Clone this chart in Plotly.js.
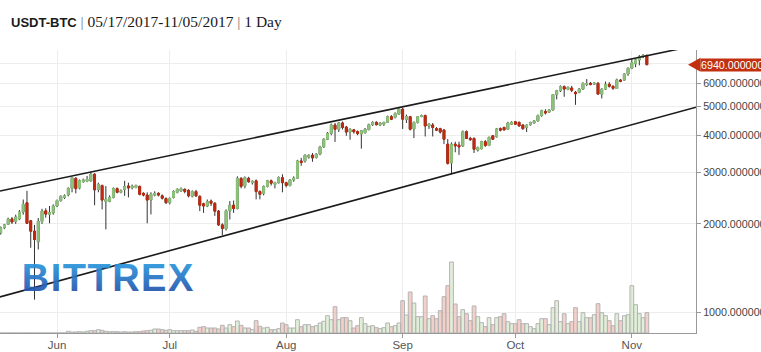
<!DOCTYPE html>
<html><head><meta charset="utf-8">
<script src="https://cdn.plot.ly/plotly-3.0.1.min.js"></script>
<style>html,body{margin:0;padding:0;background:#fff}#chart{width:761px;height:352px}</style>
</head><body><div id="chart"></div>
<script>
// ---- data (USDT-BTC daily, 2017-05-17 .. 2017-11-05) ----
const startDate = "2017-05-17";
const openP = [1866,1940,1995,2080,2040,2080,2195,2360,2050,1890,
1740,2040,2215,2155,2180,2300,2400,2460,2510,2640,
2855,2650,2780,2790,2800,2947,2620,2700,2380,2390,
2460,2635,2560,2620,2690,2650,2660,2680,2540,2505,
2410,2505,2540,2490,2440,2360,2460,2560,2590,2620,
2600,2485,2575,2480,2340,2300,2390,2350,2210,1985,
1925,2215,2315,2255,2855,2690,2855,2760,2800,2575,
2540,2680,2800,2725,2760,2870,2760,2700,2820,2860,
3270,3270,3370,3420,3360,3450,3650,3876,4060,4330,
4190,4400,4260,4100,4170,4110,4040,4080,4180,4340,
4420,4330,4360,4420,4620,4600,4714,4900,4520,4620,
4200,4420,4630,4660,4300,4330,4210,4210,4160,3727,
3220,3727,3700,3680,4110,3900,3900,3560,3600,3800,
3690,3980,3950,4210,4250,4190,4360,4440,4420,4330,
4250,4340,4400,4470,4660,4810,4790,4870,5490,5660,
5840,5720,5780,5590,5590,5735,5950,6000,5960,6000,
5514,5735,5950,5860,5760,6150,6150,6450,6750,6990,
7200,7380,7460];
const highP = [1960,2000,2100,2110,2150,2230,2420,2590,2060,1985,
2095,2250,2260,2300,2330,2420,2500,2520,2660,2890,
2880,2830,2850,2910,3005,2975,2760,2720,2690,2500,
2660,2660,2620,2800,2760,2720,2720,2700,2560,2560,
2560,2580,2560,2520,2460,2460,2600,2640,2660,2640,
2620,2600,2610,2500,2360,2420,2420,2370,2230,2010,
2240,2390,2400,2900,2880,2900,2890,2810,2830,2600,
2700,2820,2830,2780,2900,2947,2780,2840,2900,3300,
3350,3440,3440,3480,3470,3680,3900,4100,4380,4400,
4430,4450,4300,4220,4200,4150,4160,4230,4380,4460,
4460,4420,4440,4660,4680,4780,4920,4950,4700,4650,
4450,4640,4700,4700,4380,4400,4260,4240,4200,3880,
3780,3800,3800,4150,4150,3950,3930,3660,3830,3850,
3960,4000,4230,4250,4270,4440,4460,4470,4450,4350,
4350,4440,4500,4700,4880,4900,4900,5520,5700,5900,
5900,5850,5880,5650,5780,6050,6200,6060,6050,6050,
5760,6080,6050,5900,6220,6200,6480,6780,7250,7260,
7480,7530,7500];
const lowP = [1840,1920,1985,2000,2000,2060,2150,2000,1660,1107,
1638,2000,2100,2010,2150,2280,2380,2430,2480,2560,
2540,2620,2760,2770,2780,2315,2560,2240,1916,2370,
2440,2540,2540,2490,2460,2620,2640,2500,2480,2010,
2154,2480,2480,2420,2340,2330,2440,2540,2570,2540,
2460,2460,2470,2210,2180,2280,2300,2130,1970,1830,
1900,2070,2180,2240,2640,2640,2760,2720,2423,2423,
2500,2660,2700,2640,2740,2560,2660,2680,2780,2840,
3150,3230,3330,3250,3330,3420,3620,3850,4000,3795,
4100,4180,3980,3860,4050,4000,3600,4050,4150,4300,
4320,4300,4300,4400,4500,4560,4690,4200,4400,4150,
3910,4380,4600,3960,4200,3960,4130,4050,3730,3180,
2947,3500,3430,3650,3880,3830,3480,3520,3580,3650,
3670,3850,3930,4120,4150,4170,4330,4330,4280,4170,
4100,4310,4380,4450,4620,4700,4760,4850,5290,5600,
5400,5680,5600,5070,5550,5700,5870,5900,5920,5500,
5330,5700,5800,5700,5750,6050,6120,6360,6700,6800,
6900,7300,6900];
const closeP = [1941,1985,2078,2030,2110,2195,2330,2010,1890,1771,
2040,2210,2160,2185,2300,2400,2480,2490,2640,2870,
2635,2800,2820,2830,2947,2610,2725,2410,2423,2460,
2635,2560,2590,2680,2650,2690,2700,2520,2505,2410,
2520,2540,2505,2445,2360,2440,2575,2620,2635,2580,
2490,2575,2490,2315,2300,2380,2350,2210,1985,1930,
2215,2315,2255,2855,2680,2870,2780,2790,2575,2520,
2680,2800,2750,2760,2870,2760,2700,2820,2860,3270,
3230,3420,3420,3350,3450,3650,3876,4060,4330,4190,
4400,4250,4100,4190,4110,4050,4140,4190,4340,4420,
4340,4400,4420,4620,4530,4740,4900,4533,4630,4190,
4420,4620,4660,4300,4360,4250,4160,4100,3876,3210,
3727,3680,3650,4110,3900,3860,3584,3630,3800,3690,
3930,3876,4200,4160,4170,4400,4420,4360,4300,4210,
4330,4420,4470,4660,4840,4760,4870,5490,5660,5840,
5735,5810,5680,5530,5735,5990,5990,5950,6000,5514,
5735,5950,5860,5770,6160,6100,6450,6750,7040,7200,
7380,7460,6940];
const volume = [0,0,0,0,0,0,0,0,0,0,
0,0,0,0,0,0,0,0,1.7,1.0,
1.0,1.3,1.0,1.7,2.3,2.3,3.3,2.7,1.7,1.3,
1.3,1.3,1.0,1.3,1.0,1.0,1.3,1.3,2.0,2.3,
2.7,4.0,4.0,3.3,2.7,3.3,2.3,2.3,2.3,2.3,
2.3,3.0,1.7,5.7,6.3,5.0,5.0,5.0,4.0,7.7,
5.0,8.3,6.3,12.0,7.7,5.0,5.0,3.3,12.3,6.7,
5.0,5.7,3.3,3.3,4.3,10.0,8.3,5.0,5.0,13.3,
6.3,8.3,8.3,6.3,7.3,10.0,11.7,17.3,13.3,26.3,
13.3,15.3,15.3,12.3,5.0,7.3,15.3,9.3,6.7,7.3,
5.3,4.3,5.3,10.0,6.3,7.3,10.0,32.3,18.0,41.0,
30.0,16.3,16.3,37.0,14.3,17.3,14.3,22.3,36.3,47.3,
71.0,29.0,16.3,23.3,19.3,12.3,27.0,16.3,10.3,6.3,
15.3,8.3,15.3,16.3,19.3,11.3,9.3,9.3,13.3,9.3,
9.3,6.3,4.3,9.3,14.3,14.3,8.3,25.3,32.3,11.3,
19.3,9.3,11.3,25.3,11.3,20.3,15.3,15.3,18.3,29.3,
20.3,17.3,12.3,7.3,19.3,12.3,17.3,18.3,47.3,28.3,
19.3,15.3,20.3];
const yTicks = [1000,2000,3000,4000,5000,6000,7000];
const xRange = ["2017-05-16 19:40","2017-11-18 02:00"];
const upperTrendX = ["2017-05-16 19:40","2017-11-18 02:00"];
const upperTrendY = [2587, 8062];
const lowerTrendX = ["2017-05-16 19:40","2017-11-18 02:00"];
const lowerTrendY = [1131, 4975];

// ---- build ----
const GREEN = '#8cc47a', RED = '#c1290f', WICK = '#333333';
const d0 = new Date(startDate + "T00:00:00Z");
const dates = openP.map((_, i) => new Date(d0.getTime() + i*86400000).toISOString().slice(0,10));
const bodyHigh = openP.map((o,i) => Math.max(o, closeP[i]));
const bodyLow = openP.map((o,i) => Math.min(o, closeP[i]));
const volColors = openP.map((o,i) => closeP[i] >= o ? 'rgba(200,226,186,0.55)' : 'rgba(234,170,158,0.55)');

const yr = [2.931, 3.891];
const lastClose = closeP[closeP.length-1];
const pY = (Math.log10(lastClose) - yr[0])/(yr[1]-yr[0]);
const plotW = 696, plotH = 283;

const traces = [
  {type:'scatter', mode:'lines', x:upperTrendX, y:upperTrendY, line:{color:'#1b1b1b', width:1.6}, hoverinfo:'skip'},
  {type:'scatter', mode:'lines', x:lowerTrendX, y:lowerTrendY, line:{color:'#1b1b1b', width:1.6}, hoverinfo:'skip'},
  {type:'candlestick', x:dates, open:openP, high:highP, low:lowP, close:closeP,
   increasing:{line:{color:WICK, width:1}, fillcolor:GREEN},
   decreasing:{line:{color:WICK, width:1}, fillcolor:RED}, whiskerwidth:0},
  {type:'candlestick', x:dates, open:openP, high:bodyHigh, low:bodyLow, close:closeP,
   increasing:{line:{color:GREEN, width:1}, fillcolor:GREEN},
   decreasing:{line:{color:RED, width:1}, fillcolor:RED}, whiskerwidth:0},
  {type:'bar', x:dates, y:volume, yaxis:'y2', marker:{color:volColors, line:{color:'#b3b3b3', width:1}}, hoverinfo:'skip'}
];

const fontSans = 'Liberation Sans, Arial, sans-serif';
const serif = "font-family:Liberation Serif, serif;font-size:15.5px";
const layout = {
  width:761, height:352,
  margin:{l:0, r:65, t:50, b:19, pad:0},
  paper_bgcolor:'#ffffff', plot_bgcolor:'#ffffff',
  showlegend:false,
  bargap:0,
  title:{
    text:"<b>USDT-BTC</b><span style='"+serif+";color:#777'> | </span><span style='"+serif+"'>05/17/2017-11/05/2017</span><span style='"+serif+";color:#777'> | </span><span style='"+serif+"'>1 Day</span>",
    x:11/761, xanchor:'left', xref:'container',
    y:1-22/352, yanchor:'middle', yref:'container',
    font:{family:fontSans, size:13, color:'#1a1a1a'}
  },
  xaxis:{type:'date', range:xRange, tickformat:'%b', dtick:'M1', tick0:'2017-06-01',
    ticks:'outside', ticklen:4, tickcolor:'#999', showline:true, linecolor:'#999', linewidth:1,
    showgrid:true, gridcolor:'#ededed', zeroline:false, rangeslider:{visible:false},
    ticklabelstandoff:-3,
    tickfont:{family:fontSans, size:11.5, color:'#555'}, fixedrange:true},
  yaxis:{type:'log', side:'right', range:yr, tickvals:yTicks,
    ticktext:yTicks.map(v => v === 7000 ? '' : v.toFixed(6)),
    ticks:'outside', ticklen:4, tickcolor:'#999', showline:true, linecolor:'#999', linewidth:1,
    showgrid:true, gridcolor:'#ededed', zeroline:false,
    tickfont:{family:fontSans, size:10.7, color:'#444'}, fixedrange:true},
  yaxis2:{overlaying:'y', range:[0,283], visible:false, fixedrange:true},
  annotations:[
    {text:'<b>BITTREX</b>', xref:'paper', yref:'paper', x:109/plotW, y:(333-278)/plotH,
     xanchor:'center', yanchor:'middle', showarrow:false,
     font:{family:fontSans, size:38, color:'#2c6fc6'}, opacity:0.92},
    {text:lastClose.toFixed(6), xref:'paper', yref:'paper', x:700/plotW, y:pY,
     xanchor:'left', yanchor:'middle', showarrow:false, bgcolor:'#c1300f', borderpad:0,
     font:{family:fontSans, size:10.7, color:'#ffffff'}}
  ],
  shapes:[
    {type:'path', xref:'paper', yref:'paper', layer:'above',
     path:`M ${688/plotW} ${pY} L ${700.5/plotW} ${pY+7/plotH} L ${700.5/plotW} ${pY-7/plotH} Z`,
     fillcolor:'#c1300f', line:{width:0}}
  ]
};

Plotly.newPlot('chart', traces, layout, {displayModeBar:false, staticPlot:true}).then(gd => {
  const texts = gd.querySelectorAll('.annotation-text');
  texts.forEach(t => {
    if (t.textContent === 'BITTREX') {
      const svg = t.ownerSVGElement;
      const ns = 'http://www.w3.org/2000/svg';
      let defs = svg.querySelector('defs');
      if (!defs) { defs = document.createElementNS(ns, 'defs'); svg.insertBefore(defs, svg.firstChild); }
      const g = document.createElementNS(ns, 'linearGradient');
      g.setAttribute('id', 'bxgrad'); g.setAttribute('x1','0'); g.setAttribute('y1','0'); g.setAttribute('x2','0'); g.setAttribute('y2','1');
      [['0','#2aa6e6'],['1','#2443a2']].forEach(([o,c]) => {
        const s = document.createElementNS(ns, 'stop'); s.setAttribute('offset', o); s.setAttribute('stop-color', c); g.appendChild(s);
      });
      defs.appendChild(g);
      t.style.fill = 'url(#bxgrad)';
      t.style.letterSpacing = '1.5px';
    }
  });
});
</script></body></html>
